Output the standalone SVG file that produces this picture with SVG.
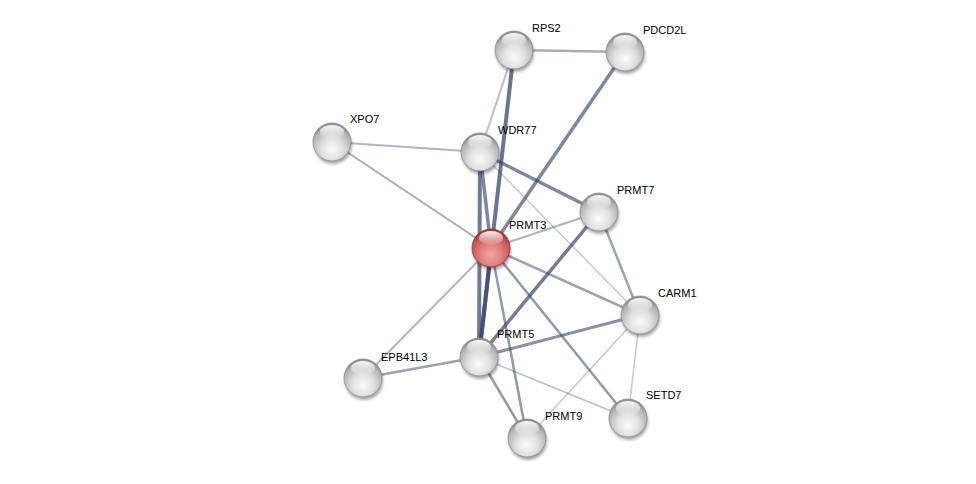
<svg xmlns="http://www.w3.org/2000/svg" width="976" height="484" viewBox="0 0 976 484">
<defs>
<radialGradient id="gGrey" cx="50%" cy="68%" r="62%">
<stop offset="0" stop-color="#fbfbfb"/>
<stop offset="0.45" stop-color="#e2e2e2"/>
<stop offset="0.85" stop-color="#b4b4b4"/>
<stop offset="1" stop-color="#909090"/>
</radialGradient>
<radialGradient id="gRed" cx="50%" cy="68%" r="62%">
<stop offset="0" stop-color="#f4a4a4"/>
<stop offset="0.45" stop-color="#e08080"/>
<stop offset="0.85" stop-color="#c25656"/>
<stop offset="1" stop-color="#a43a3a"/>
</radialGradient>
<linearGradient id="gHi" x1="0" y1="0" x2="0" y2="1">
<stop offset="0" stop-color="#ffffff" stop-opacity="0.95"/>
<stop offset="1" stop-color="#ffffff" stop-opacity="0.05"/>
</linearGradient>
<filter id="sh" x="-50%" y="-50%" width="200%" height="200%">
<feGaussianBlur stdDeviation="1.8"/>
</filter>
<g id="sphere">
<ellipse cx="1" cy="3" rx="19" ry="19" fill="#000" opacity="0.35" filter="url(#sh)"/>
</g>
</defs>
<style>
.e{stroke:#3a4470;fill:none;stroke-linecap:butt}
.t{font-family:"Liberation Sans",Arial,sans-serif;font-size:11px;fill:#000}
.ng{fill:url(#gGrey);stroke:#8c8c8c;stroke-width:0.8}
.nr{fill:url(#gRed);stroke:#9a3030;stroke-width:0.8}
.hi{fill:url(#gHi)}
</style>
<rect width="976" height="484" fill="#fff"/>
<g id="edges">
<line class="e" x1="514" y1="50" x2="625" y2="52" stroke-width="2.5" stroke-opacity="0.45"/>
<line class="e" x1="514" y1="50" x2="480" y2="152" stroke-width="2" stroke-opacity="0.35"/>
<line class="e" x1="514" y1="50" x2="479" y2="357" stroke-width="4" stroke-opacity="0.75"/>
<line class="e" x1="625" y1="52" x2="491" y2="248" stroke-width="3.5" stroke-opacity="0.65"/>
<line class="e" x1="332" y1="142" x2="480" y2="152" stroke-width="2" stroke-opacity="0.4"/>
<line class="e" x1="332" y1="142" x2="491" y2="248" stroke-width="2" stroke-opacity="0.45"/>
<line class="e" x1="480" y1="152" x2="599" y2="212" stroke-width="3.5" stroke-opacity="0.65"/>
<line class="e" x1="480" y1="152" x2="491" y2="248" stroke-width="3.5" stroke-opacity="0.65"/>
<line class="e" x1="480" y1="152" x2="479" y2="357" stroke-width="4" stroke-opacity="0.72"/>
<line class="e" x1="480" y1="152" x2="640" y2="315" stroke-width="1.5" stroke-opacity="0.3"/>
<line class="e" x1="491" y1="248" x2="599" y2="212" stroke-width="2" stroke-opacity="0.4"/>
<line class="e" x1="491" y1="248" x2="640" y2="315" stroke-width="2.5" stroke-opacity="0.5"/>
<line class="e" x1="491" y1="248" x2="479" y2="357" stroke-width="4" stroke-opacity="0.72"/>
<line class="e" x1="491" y1="248" x2="527" y2="438" stroke-width="2.5" stroke-opacity="0.55"/>
<line class="e" x1="491" y1="248" x2="628" y2="418" stroke-width="2.5" stroke-opacity="0.55"/>
<line class="e" x1="491" y1="248" x2="363" y2="378" stroke-width="2" stroke-opacity="0.4"/>
<line class="e" x1="599" y1="212" x2="479" y2="357" stroke-width="3.5" stroke-opacity="0.7"/>
<line class="e" x1="599" y1="212" x2="640" y2="315" stroke-width="2.5" stroke-opacity="0.5"/>
<line class="e" x1="479" y1="357" x2="640" y2="315" stroke-width="3" stroke-opacity="0.6"/>
<line class="e" x1="479" y1="357" x2="363" y2="378" stroke-width="2.5" stroke-opacity="0.5"/>
<line class="e" x1="479" y1="357" x2="527" y2="438" stroke-width="2.5" stroke-opacity="0.55"/>
<line class="e" x1="479" y1="357" x2="628" y2="418" stroke-width="1.5" stroke-opacity="0.35"/>
<line class="e" x1="640" y1="315" x2="527" y2="438" stroke-width="1.5" stroke-opacity="0.3"/>
<line class="e" x1="640" y1="315" x2="628" y2="418" stroke-width="1.5" stroke-opacity="0.3"/>
</g>
<g id="RPS2" transform="translate(514,50)"><use href="#sphere"/><circle class="ng" r="19"/><ellipse class="hi" cx="0" cy="-10" rx="12" ry="7"/><text class="t" x="18" y="-18">RPS2</text></g>
<g id="PDCD2L" transform="translate(625,52)"><use href="#sphere"/><circle class="ng" r="19"/><ellipse class="hi" cx="0" cy="-10" rx="12" ry="7"/><text class="t" x="18" y="-18">PDCD2L</text></g>
<g id="XPO7" transform="translate(332,142)"><use href="#sphere"/><circle class="ng" r="19"/><ellipse class="hi" cx="0" cy="-10" rx="12" ry="7"/><text class="t" x="18" y="-19">XPO7</text></g>
<g id="WDR77" transform="translate(480,152)"><use href="#sphere"/><circle class="ng" r="19"/><ellipse class="hi" cx="0" cy="-10" rx="12" ry="7"/><text class="t" x="18" y="-18">WDR77</text></g>
<g id="PRMT7" transform="translate(599,212)"><use href="#sphere"/><circle class="ng" r="19"/><ellipse class="hi" cx="0" cy="-10" rx="12" ry="7"/><text class="t" x="18" y="-18">PRMT7</text></g>
<g id="PRMT3" transform="translate(491,248)"><use href="#sphere"/><circle class="nr" r="19"/><ellipse class="hi" cx="0" cy="-10" rx="12" ry="7"/><text class="t" x="18" y="-19">PRMT3</text></g>
<g id="CARM1" transform="translate(640,315)"><use href="#sphere"/><circle class="ng" r="19"/><ellipse class="hi" cx="0" cy="-10" rx="12" ry="7"/><text class="t" x="18" y="-18">CARM1</text></g>
<g id="PRMT5" transform="translate(479,357)"><use href="#sphere"/><circle class="ng" r="19"/><ellipse class="hi" cx="0" cy="-10" rx="12" ry="7"/><text class="t" x="18" y="-19">PRMT5</text></g>
<g id="EPB41L3" transform="translate(363,378)"><use href="#sphere"/><circle class="ng" r="19"/><ellipse class="hi" cx="0" cy="-10" rx="12" ry="7"/><text class="t" x="18" y="-17">EPB41L3</text></g>
<g id="SETD7" transform="translate(628,418)"><use href="#sphere"/><circle class="ng" r="19"/><ellipse class="hi" cx="0" cy="-10" rx="12" ry="7"/><text class="t" x="18" y="-19">SETD7</text></g>
<g id="PRMT9" transform="translate(527,438)"><use href="#sphere"/><circle class="ng" r="19"/><ellipse class="hi" cx="0" cy="-10" rx="12" ry="7"/><text class="t" x="18" y="-18">PRMT9</text></g>
</svg>
